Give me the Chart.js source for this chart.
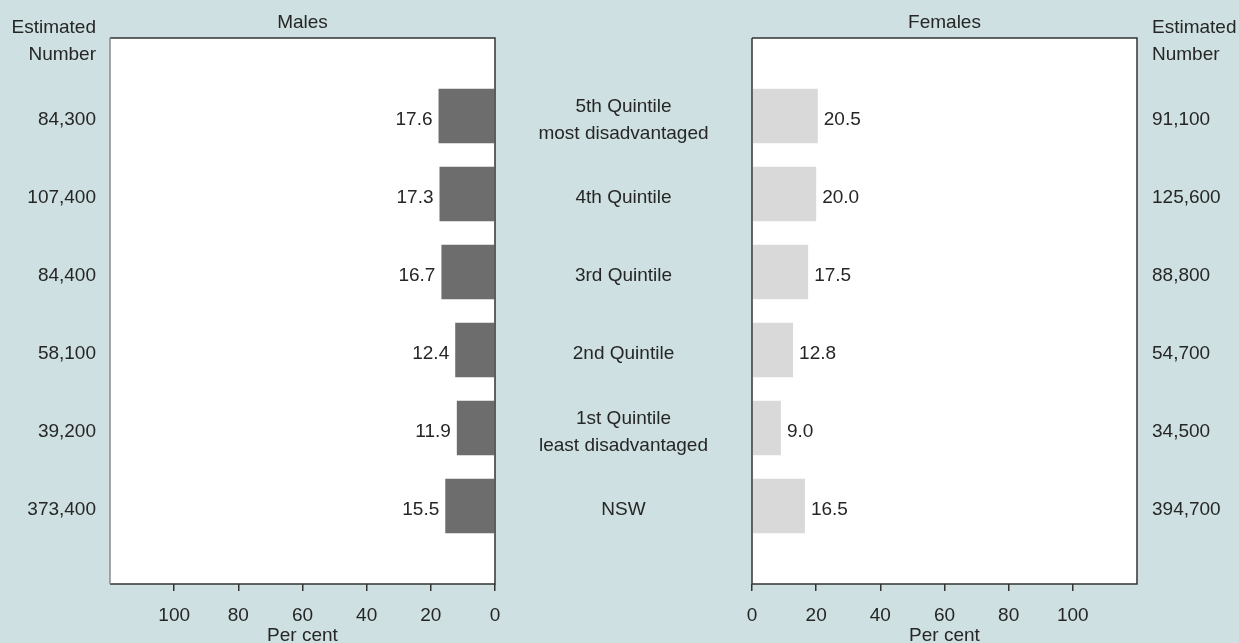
<!DOCTYPE html>
<html>
<head>
<meta charset="utf-8">
<script src="https://cdn.jsdelivr.net/npm/chart.js@4/dist/chart.umd.min.js"></script>
<style>
  html, body { margin:0; padding:0; background:#cee0e1; }
  #wrap { position:relative; width:1239px; height:643px; }
  canvas { position:absolute; left:0; top:0; }
</style>
</head>
<body>
<div id="wrap">
  <canvas id="cm" width="1239" height="643"></canvas>
  <canvas id="cf" width="1239" height="643"></canvas>
</div>
<script>
const categories = [
  ['5th Quintile', 'most disadvantaged'],
  ['4th Quintile'],
  ['3rd Quintile'],
  ['2nd Quintile'],
  ['1st Quintile', 'least disadvantaged'],
  ['NSW']
];
const malePct = [17.6, 17.3, 16.7, 12.4, 11.9, 15.5];
const femalePct = [20.5, 20.0, 17.5, 12.8, 9.0, 16.5];
const maleNumbers = ['84,300', '107,400', '84,400', '58,100', '39,200', '373,400'];
const femaleNumbers = ['91,100', '125,600', '88,800', '54,700', '34,500', '394,700'];
const xMax = 120;
const xStep = 20;
const headerLines = ['Estimated', 'Number'];

const FONT_FAMILY = "'Liberation Sans', Arial, Helvetica, sans-serif";
const FS = 19;
const TXT = '#262626';
const font = { family: FONT_FAMILY, size: FS };

function xScaleOpts(reverse) {
  return {
    type: 'linear', reverse: reverse, min: 0, max: xMax,
    afterFit: s => { s.height = 59; },
    ticks: {
      stepSize: xStep, autoSkip: false, maxRotation: 0, padding: 13,
      font: font, color: TXT,
      callback: v => (v === xMax ? '' : String(v))
    },
    grid: {
      drawOnChartArea: false, drawTicks: true, tickLength: 7, lineWidth: 1.5,
      color: ctx => (ctx.tick && ctx.tick.value === xMax ? 'rgba(0,0,0,0)' : '#333')
    },
    border: { display: false },
    title: { display: true, text: 'Per cent', font: font, color: TXT, padding: { top: 0, bottom: -4 } }
  };
}

function yScaleOpts(labels, pos, width, pad) {
  return {
    type: 'category', position: pos, labels: ['', ...labels, ''], offset: false,
    afterFit: s => { s.width = width; },
    ticks: { autoSkip: false, padding: pad, labelOffset: 4, font: font, color: TXT },
    grid: { display: false, drawTicks: false },
    border: { display: false }
  };
}

function panelPlugin(side) {
  return {
    id: 'panel' + side,
    beforeDraw(chart) {
      const a = chart.chartArea, c = chart.ctx;
      c.save();
      c.fillStyle = '#ffffff';
      c.fillRect(a.left, a.top, a.right - a.left, a.bottom - a.top);
      c.restore();
    },
    afterDraw(chart) {
      const a = chart.chartArea, c = chart.ctx;
      c.save();
      c.lineWidth = 1.5;
      c.strokeStyle = '#333';
      c.beginPath();
      c.moveTo(a.left, a.top); c.lineTo(a.right, a.top); c.lineTo(a.right, a.bottom); c.lineTo(a.left, a.bottom);
      c.stroke();
      c.strokeStyle = side === 'L' ? '#8a8a8a' : '#333';
      c.beginPath(); c.moveTo(a.left, a.top); c.lineTo(a.left, a.bottom); c.stroke();

      c.font = FS + 'px ' + FONT_FAMILY;
      c.fillStyle = TXT;
      c.textBaseline = 'middle';
      c.textAlign = 'center';
      c.fillText(side === 'L' ? 'Males' : 'Females', (a.left + a.right) / 2, 23);
      if (side === 'L') {
        c.textAlign = 'right';
        c.fillText(headerLines[0], a.left - 14, 28);
        c.fillText(headerLines[1], a.left - 14, 55);
      } else {
        c.textAlign = 'left';
        c.fillText(headerLines[0], a.right + 15, 28);
        c.fillText(headerLines[1], a.right + 15, 55);
      }
      const meta = chart.getDatasetMeta(0);
      const vals = chart.data.datasets[0].data;
      meta.data.forEach((bar, i) => {
        const v = vals[i];
        if (v === null || v === undefined) return;
        if (side === 'L') {
          c.textAlign = 'right';
          c.fillText(v.toFixed(1), bar.x - 6, bar.y + 4);
        } else {
          c.textAlign = 'left';
          c.fillText(v.toFixed(1), bar.x + 6, bar.y + 4);
        }
      });
      if (side === 'L') {
        const ys = chart.scales.y;
        c.textAlign = 'center';
        const lh = 26.6;
        const cx = 623.5;
        categories.forEach((lines, i) => {
          const cy = ys.getPixelForValue(i + 1) + 4;
          lines.forEach((t, j) => {
            c.fillText(t, cx, cy - (lines.length - 1) * lh / 2 + j * lh);
          });
        });
      }
      c.restore();
    }
  };
}

const common = {
  responsive: false, animation: false, devicePixelRatio: 1, indexAxis: 'y',
  plugins: { legend: { display: false }, tooltip: { enabled: false } }
};

new Chart(document.getElementById('cm'), {
  type: 'bar',
  data: { datasets: [{ data: [null, ...malePct, null], backgroundColor: '#6d6d6d', barPercentage: 0.7, categoryPercentage: 1 }] },
  options: Object.assign({}, common, {
    layout: { padding: { top: 38, right: 744, left: 0, bottom: 0 } },
    scales: { x: xScaleOpts(true), y: yScaleOpts(maleNumbers, 'left', 110, 14) }
  }),
  plugins: [panelPlugin('L')]
});

new Chart(document.getElementById('cf'), {
  type: 'bar',
  data: { datasets: [{ data: [null, ...femalePct, null], backgroundColor: '#d9d9d9', barPercentage: 0.7, categoryPercentage: 1 }] },
  options: Object.assign({}, common, {
    layout: { padding: { top: 38, right: 0, left: 752, bottom: 0 } },
    scales: { x: xScaleOpts(false), y: yScaleOpts(femaleNumbers, 'right', 102, 15) }
  }),
  plugins: [panelPlugin('R')]
});
</script>
</body>
</html>
